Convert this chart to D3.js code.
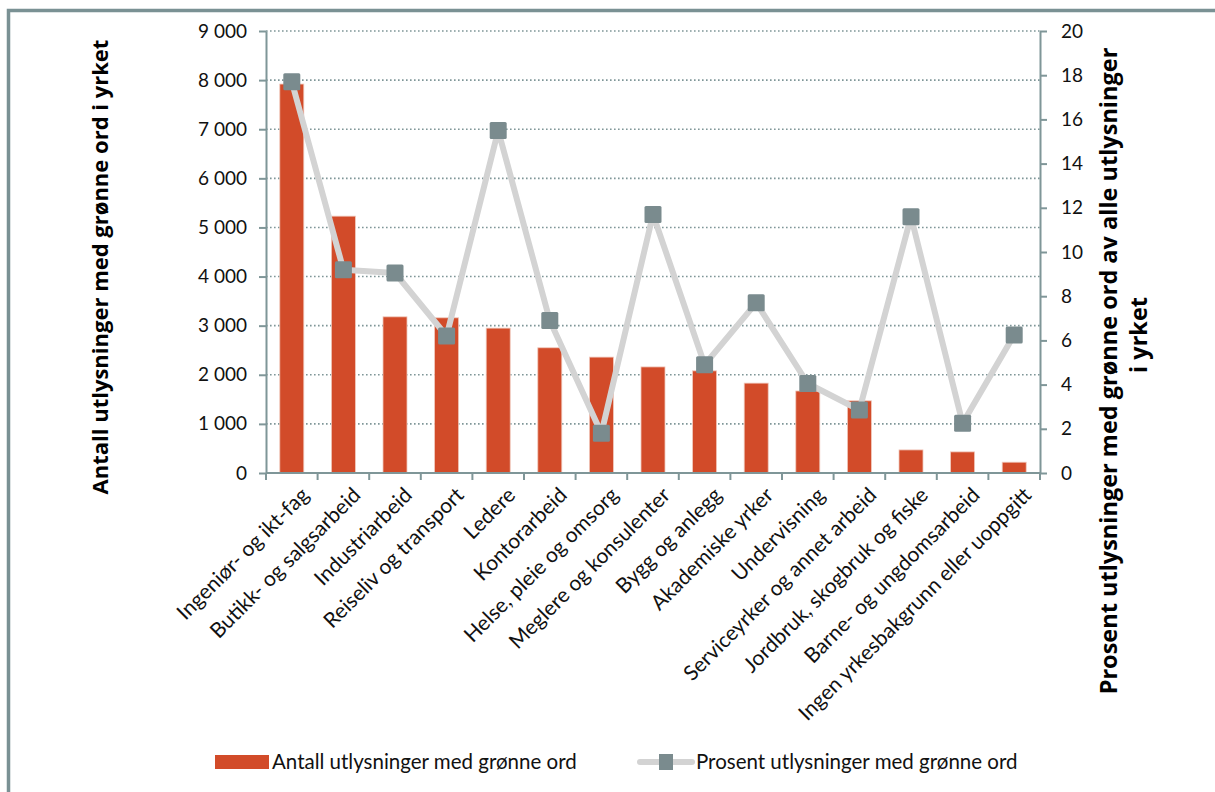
<!DOCTYPE html>
<html lang="no">
<head>
<meta charset="UTF-8">
<title>Grønne ord i utlysninger</title>
<script src="https://d3js.org/d3.v7.min.js"></script>
<style>
  body { margin: 0; background: #fff; font-family: Lato, "Open Sans", sans-serif; }
  .axis path, .axis line { stroke: #7f9698; stroke-width: 2px; }
  .axis text { font-size: 19px; fill: #111; font-family: Lato, sans-serif; }
  .axis text.cat { font-size: 21px; }
  .grid line { stroke: #7f9698; stroke-width: 1.6px; stroke-dasharray: 1.6 2.4; }
  .title { font-size: 22px; font-weight: bold; fill: #000; font-family: "Open Sans", sans-serif; }
  .title.right { font-size: 23.5px; }
  .legend text { font-size: 20.5px; fill: #111; }
</style>
</head>
<body>
<div id="chart"></div>
<script>
// yrker
const categories = [
  "Ingeniør- og ikt-fag", "Butikk- og salgsarbeid", "Industriarbeid", "Reiseliv og transport",
  "Ledere", "Kontorarbeid", "Helse, pleie og omsorg", "Meglere og konsulenter",
  "Bygg og anlegg", "Akademiske yrker", "Undervisning", "Serviceyrker og annet arbeid",
  "Jordbruk, skogbruk og fiske", "Barne- og ungdomsarbeid", "Ingen yrkesbakgrunn eller uoppgitt"
];
// antall utlysninger med grønne ord
const antall = [7920, 5230, 3180, 3160, 2950, 2550, 2360, 2160, 2080, 1830, 1670, 1470, 470, 430, 220];
// prosent av alle utlysninger i yrket
const prosent = [17.7, 9.2, 9.05, 6.2, 15.5, 6.9, 1.8, 11.7, 4.9, 7.7, 4.05, 2.85, 11.6, 2.25, 6.25];
const leftTicks = [0, 1000, 2000, 3000, 4000, 5000, 6000, 7000, 8000, 9000];
const rightTicks = [0, 2, 4, 6, 8, 10, 12, 14, 16, 18, 20];

const W = 1215, H = 792;
const m = { top: 31, left: 266, right: 1040, bottom: 473 };

const svg = d3.select("#chart").append("svg")
  .attr("width", W).attr("height", H);

// ramme
svg.append("rect")
  .attr("x", 8.5).attr("y", 10.5)
  .attr("width", W + 20).attr("height", H + 20)
  .attr("fill", "none").attr("stroke", "#7a9194").attr("stroke-width", 3.5);

const x = d3.scaleBand().domain(categories).range([m.left, m.right]);
const y = d3.scaleLinear().domain([0, 9000]).range([m.bottom, m.top]);
const y2 = d3.scaleLinear().domain([0, 20]).range([m.bottom, m.top]);

const fmt = d => d3.format(",")(d).replace(/,/g, " ");

// gridlines
svg.append("g").attr("class", "grid")
  .selectAll("line").data(leftTicks.slice(1)).enter().append("line")
  .attr("x1", m.left).attr("x2", m.right)
  .attr("y1", d => y(d)).attr("y2", d => y(d));

// søyler
const bw = 24;
svg.selectAll(".bar").data(antall).enter().append("rect")
  .attr("class", "bar")
  .attr("x", (d, i) => x(categories[i]) + x.bandwidth() / 2 - bw / 2)
  .attr("y", d => y(d))
  .attr("width", bw)
  .attr("height", d => y(0) - y(d))
  .attr("fill", "#d24b29")
  .attr("stroke", "#f0c8bc").attr("stroke-width", 0.8);

// akser
svg.append("g").attr("class", "axis")
  .attr("transform", `translate(${m.left},0)`)
  .call(d3.axisLeft(y).tickValues(leftTicks).tickFormat(fmt).tickSize(7).tickSizeOuter(0).tickPadding(12));

svg.append("g").attr("class", "axis")
  .attr("transform", `translate(${m.right},0)`)
  .call(d3.axisRight(y2).tickValues(rightTicks).tickSize(7).tickSizeOuter(0).tickPadding(14));

const xAxis = svg.append("g").attr("class", "axis")
  .attr("transform", `translate(0,${m.bottom})`);
xAxis.append("line").attr("x1", m.left).attr("x2", m.right);
xAxis.selectAll(".tk").data(d3.range(categories.length + 1)).enter().append("line")
  .attr("x1", i => m.left + i * x.step()).attr("x2", i => m.left + i * x.step())
  .attr("y1", 0).attr("y2", 7);
xAxis.selectAll("text").data(categories).enter().append("text")
  .attr("class", "cat")
  .attr("transform", d => `translate(${x(d) + x.bandwidth() / 2 + 8},${13}) rotate(-45)`)
  .attr("text-anchor", "end")
  .attr("dy", "0.7em")
  .text(d => d);

// linje
const line = d3.line()
  .x((d, i) => x(categories[i]) + x.bandwidth() / 2)
  .y(d => y2(d));
svg.append("path").datum(prosent)
  .attr("d", line)
  .attr("fill", "none").attr("stroke", "#d3d3d3").attr("stroke-width", 6)
  .attr("stroke-linejoin", "round");

const ms = 17;
svg.selectAll(".marker").data(prosent).enter().append("rect")
  .attr("class", "marker")
  .attr("x", (d, i) => x(categories[i]) + x.bandwidth() / 2 - ms / 2)
  .attr("y", d => y2(d) - ms / 2)
  .attr("width", ms).attr("height", ms)
  .attr("rx", 1.5)
  .attr("fill", "#7a8b8e");

// aksetitler
svg.append("text").attr("class", "title")
  .attr("transform", `translate(108,267) rotate(-90)`)
  .attr("text-anchor", "middle")
  .text("Antall utlysninger med grønne ord i yrket");

svg.append("text").attr("class", "title right")
  .attr("transform", `translate(1117,371) rotate(-90)`)
  .attr("text-anchor", "middle")
  .text("Prosent utlysninger med grønne ord av alle utlysninger");
svg.append("text").attr("class", "title right")
  .attr("transform", `translate(1147,335) rotate(-90)`)
  .attr("text-anchor", "middle")
  .text("i yrket");

// legend
const lg = svg.append("g").attr("class", "legend");
lg.append("rect").attr("x", 215).attr("y", 755).attr("width", 54).attr("height", 14).attr("fill", "#d24b29");
lg.append("text").attr("x", 272).attr("y", 769).text("Antall utlysninger med grønne ord");
lg.append("line").attr("x1", 640).attr("x2", 692).attr("y1", 762).attr("y2", 762)
  .attr("stroke", "#d3d3d3").attr("stroke-width", 6).attr("stroke-linecap", "round");
lg.append("rect").attr("x", 659).attr("y", 754).attr("width", 14).attr("height", 16).attr("fill", "#7a8b8e");
lg.append("text").attr("x", 696).attr("y", 769).text("Prosent utlysninger med grønne ord");
</script>
</body>
</html>
